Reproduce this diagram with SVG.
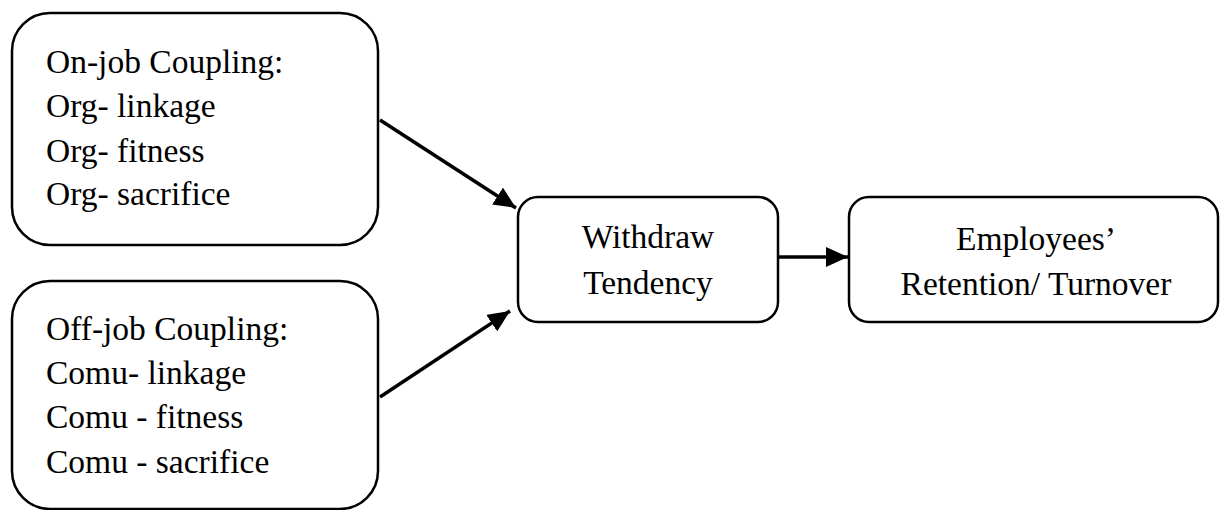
<svg xmlns="http://www.w3.org/2000/svg" width="1220" height="510" viewBox="0 0 1220 510">
<style>
.box{fill:#fff;stroke:#000;stroke-width:2.5}
.t{font-family:"Liberation Serif","Times New Roman",serif;font-size:33.5px;fill:#000}
.c{text-anchor:middle}
.conn{stroke:#000;stroke-width:3.5;fill:none}
</style>
<defs>
<marker id="ah" viewBox="0 0 22 20" refX="22" refY="10" markerWidth="22" markerHeight="20" markerUnits="userSpaceOnUse" orient="auto">
<path d="M0,0 L22,10 L0,20 z" fill="#000"/>
</marker>
</defs>
<rect width="1220" height="510" fill="#fff"/>
<g id="onjob">
<rect class="box" x="12" y="13" width="366" height="232" rx="38" ry="38"/>
<text class="t" x="46" y="73">On-job Coupling:</text>
<text class="t" x="46" y="117">Org- linkage</text>
<text class="t" x="46" y="162">Org- fitness</text>
<text class="t" x="46" y="205">Org- sacrifice</text>
</g>
<g id="offjob">
<rect class="box" x="12" y="281" width="366" height="228" rx="38" ry="38"/>
<text class="t" x="46" y="340">Off-job Coupling:</text>
<text class="t" x="46" y="384">Comu- linkage</text>
<text class="t" x="46" y="428">Comu - fitness</text>
<text class="t" x="46" y="473">Comu - sacrifice</text>
</g>
<g id="withdraw">
<rect class="box" x="518" y="197" width="260" height="125" rx="20" ry="20"/>
<text class="t c" x="648" y="248">Withdraw</text>
<text class="t c" x="648" y="294">Tendency</text>
</g>
<g id="retention">
<rect class="box" x="849" y="197" width="369" height="125" rx="20" ry="20"/>
<text class="t c" x="1036" y="250">Employees’</text>
<text class="t c" x="1036" y="295">Retention/ Turnover</text>
</g>
<g id="connectors">
<line class="conn" x1="380" y1="120" x2="516" y2="208" marker-end="url(#ah)"/>
<line class="conn" x1="380" y1="397" x2="510" y2="311" marker-end="url(#ah)"/>
<line class="conn" x1="778" y1="257" x2="848" y2="257" marker-end="url(#ah)"/>
</g>
</svg>
